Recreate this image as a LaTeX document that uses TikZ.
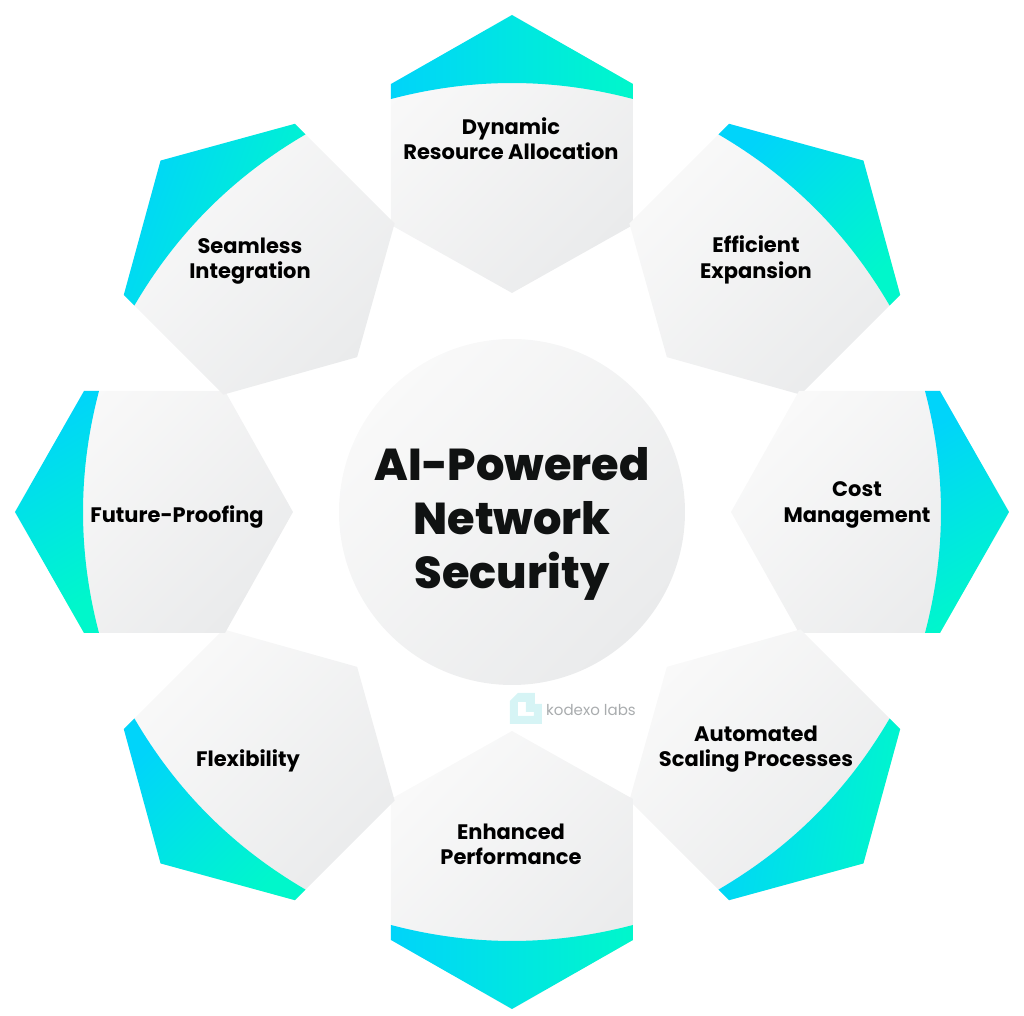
\documentclass[tikz,border=0pt]{standalone}
\usepackage{fontspec}
\setmainfont{Poppins}
\newfontfamily\heavyfont{Poppins ExtraBold}
\definecolor{myCyan}{HTML}{00d4fa}
\definecolor{myMint}{HTML}{00f7cb}
\definecolor{myLight}{HTML}{f9f9f9}
\definecolor{myDark}{HTML}{eaebec}
\definecolor{myInk}{HTML}{101212}
\definecolor{myLogo}{HTML}{d6f4f5}
\definecolor{myLogoText}{HTML}{a9acae}

\begin{document}
\begin{tikzpicture}
  \tikzstyle{H}=[top color=myDark,bottom color=myLight,shading angle=-135]
  \tikzstyle{W}=[top color=myMint,bottom color=myCyan]
  \tikzstyle{L}=[text=black,align=center,inner sep=0pt,font=\fontsize{5.97}{7.2}\selectfont\bfseries]
  \tikzstyle{T}=[text=myInk,align=center,inner sep=0pt,font=\fontsize{12.7}{15.3}\selectfont\heavyfont]
  \useasboundingbox (-5.12,-5.04) rectangle (5.12,5.12);

  \foreach \rot/\ang in {0/-90,-45/-135,-90/-150,-135/-100,-180/-90,-225/-135,-270/-150,-315/-110}{
    \begin{scope}[rotate=\rot]
      \shade[H] (0,4.97) -- (1.21,4.28) -- (1.21,2.87) -- (0,2.19) -- (-1.21,2.87) -- (-1.21,4.28) -- cycle;
      \shade[W,shading angle=\ang] (-1.21,4.13) -- (-1.21,4.28) -- (0,4.97) -- (1.21,4.28) -- (1.21,4.13) .. controls (0.4,4.343) and (-0.4,4.343) .. (-1.21,4.13) -- cycle;
    \end{scope}
  }

  \node[L] at (-0.01,3.73) (dynamic) {Dynamic\\Resource Allocation};
  \node[L] at (2.44,2.52) (efficient) {Efficient\\Expansion};
  \node[L] at (3.45,0.07) (cost) {Cost\\Management};
  \node[L] at (2.44,-2.37) (scaling) {Automated\\Scaling Processes};
  \node[L] at (-0.01,-3.32) (enhanced) {Enhanced\\Performance};
  \node[L] at (-2.64,-2.49) (flex) {Flexibility};
  \node[L] at (-3.35,-0.05) (future) {Future-Proofing};
  \node[L] at (-2.62,2.51) (seamless) {Seamless\\Integration};

  \shade[H] (0,0) circle (1.73);
  \node[T] at (0,-0.12) (title) {AI-Powered\\Network\\Security};

  % logo
  \fill[myLogo,even odd rule] (-0.02,-1.89) -- (0.06,-1.81) -- (0.23,-1.81) -- (0.23,-1.92) -- (0.30,-1.92) -- (0.30,-2.12) -- (-0.02,-2.12) -- cycle
    (0.06,-1.90) -- (0.06,-2.04) -- (0.22,-2.04) -- (0.22,-2.00) -- (0.14,-2.00) -- (0.14,-1.90) -- cycle;
  \node[text=myLogoText,inner sep=0pt,font=\fontsize{4.28}{4.4}\selectfont] at (0.79,-1.98) (logo) {kodexo labs};
\end{tikzpicture}
\end{document}
